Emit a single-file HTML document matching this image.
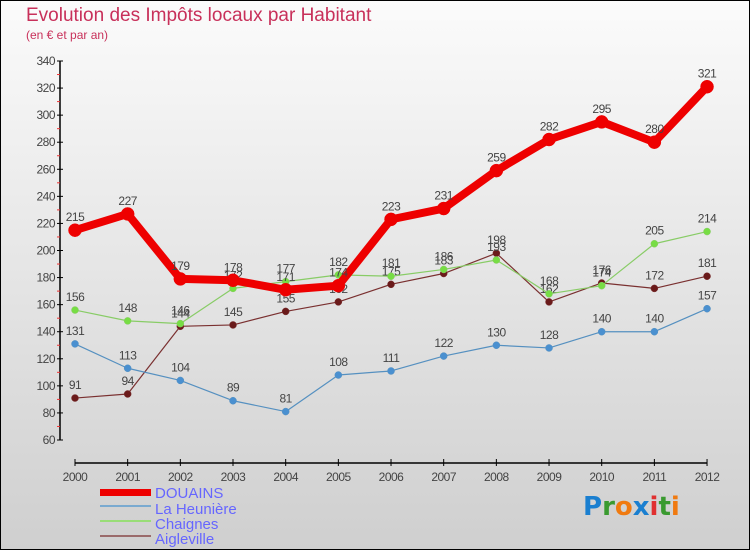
<!DOCTYPE html>
<html><head><meta charset="utf-8"><style>
body{margin:0;}
svg{display:block;font-family:"Liberation Sans",sans-serif;}
</style></head><body>
<svg id="chart" width="750" height="550" xmlns="http://www.w3.org/2000/svg">
<defs><linearGradient id="bg" x1="0" y1="0" x2="0" y2="1"><stop offset="0" stop-color="#fbfbfb"/><stop offset="1" stop-color="#cfcfcf"/></linearGradient></defs>
<rect x="0.5" y="0.5" width="749" height="549" fill="url(#bg)" stroke="#000"/>
<text x="26" y="21" font-size="19" fill="#c8305a">Evolution des Impôts locaux par Habitant</text>
<text x="26" y="39" font-size="12" fill="#c8305a">(en € et par an)</text>
<g id="axes"></g>
<g id="series"></g>
<g id="legend">
<rect x="100" y="489" width="51" height="7" fill="#e00"/>
<text x="155" y="498" font-size="15" fill="#6666ff">DOUAINS</text>
<rect x="100" y="505" width="51" height="2" fill="#7aaad0"/>
<text x="155" y="514" font-size="15" fill="#6666ff">La Heunière</text>
<rect x="100" y="520" width="51" height="2" fill="#99dd77"/>
<text x="155" y="529" font-size="15" fill="#6666ff">Chaignes</text>
<rect x="100" y="535" width="51" height="2" fill="#9a6a6a"/>
<text x="155" y="544" font-size="15" fill="#6666ff">Aigleville</text>
</g>
<g font-size="26" font-weight="bold" font-family="'DejaVu Sans',sans-serif">
<text x="583" y="515"><tspan fill="#1a7fd0">P</tspan><tspan fill="#3a9a30">r</tspan><tspan fill="#f07a10">o</tspan><tspan fill="#1a7fd0">x</tspan><tspan fill="#e03030">i</tspan><tspan fill="#3a9a30">t</tspan><tspan fill="#f07a10">i</tspan></text>
</g>
</svg>
<script>
const years=[2000,2001,2002,2003,2004,2005,2006,2007,2008,2009,2010,2011,2012];
const yTicks=[60,80,100,120,140,160,180,200,220,240,260,280,300,320,340];
const douains=[215,227,179,178,171,174,223,231,259,282,295,280,321];
const laHeuniere=[131,113,104,89,81,108,111,122,130,128,140,140,157];
const chaignes=[156,148,146,172,177,182,181,186,193,168,174,205,214];
const aigleville=[91,94,144,145,155,162,175,183,198,162,176,172,181];
const NS="http://www.w3.org/2000/svg";
function xs(i){return 75+i*52.67;}
function ys(v){return 440-(v-60)*(379/280);}
function mk(tag,attrs,parent){const e=document.createElementNS(NS,tag);for(const k in attrs)e.setAttribute(k,attrs[k]);parent.appendChild(e);return e;}
const ax=document.getElementById('axes');
let l=mk('line',{x1:60,y1:ys(340),x2:60,y2:ys(60),stroke:'#000','stroke-width':1.5},ax);


yTicks.forEach((v,i)=>{
 mk('line',{x1:57,y1:ys(v),x2:63,y2:ys(v),stroke:'#000'},ax);
 if(i<yTicks.length-1)mk('line',{x1:57,y1:ys(v+10),x2:60,y2:ys(v+10),stroke:'#e33'},ax);
 const t=mk('text',{x:55,y:ys(v)+4,'font-size':12,fill:'#444','text-anchor':'end','letter-spacing':'-0.5'},ax);
 t.textContent=v;
 
 
});
let xa=mk('line',{x1:xs(0),y1:463,x2:xs(12),y2:463,stroke:'#000','stroke-width':1.5},ax);


years.forEach((y,i)=>{
 mk('line',{x1:xs(i),y1:459,x2:xs(i),y2:466,stroke:'#000'},ax);
 const t=mk('text',{x:xs(i),y:481,'font-size':12,fill:'#444','text-anchor':'middle','letter-spacing':'-0.5'},ax);
 t.textContent=y;
 
 
});
const sg=document.getElementById('series');
function draw(name,vals,color,w,r,dot){
 const g=mk('g',{},sg);
 
 
 const p=mk('polyline',{points:vals.map((v,i)=>xs(i)+','+ys(v)).join(' '),fill:'none',stroke:color,'stroke-width':w,'stroke-linejoin':'round'},g);
 
 
 vals.forEach((v,i)=>{
  const c=mk('circle',{cx:xs(i),cy:ys(v),r:r,fill:dot,stroke:color,'stroke-width':0.5},g);
  
  
  const t=mk('text',{x:xs(i),y:ys(v)-9,'font-size':12,fill:'#444','text-anchor':'middle','letter-spacing':'-0.5'},g);
  t.textContent=v;
  
  
 });
}
draw('aigleville',aigleville,'#7a3030',1.2,3.5,'#6a1a1a');
draw('chaignes',chaignes,'#88cc66',1.2,3.5,'#77dd44');
draw('la-heuniere',laHeuniere,'#5590c0',1.2,3.5,'#4a90d0');
draw('douains',douains,'#ee0000',8,6.5,'#ee0000');
</script>
</body></html>
